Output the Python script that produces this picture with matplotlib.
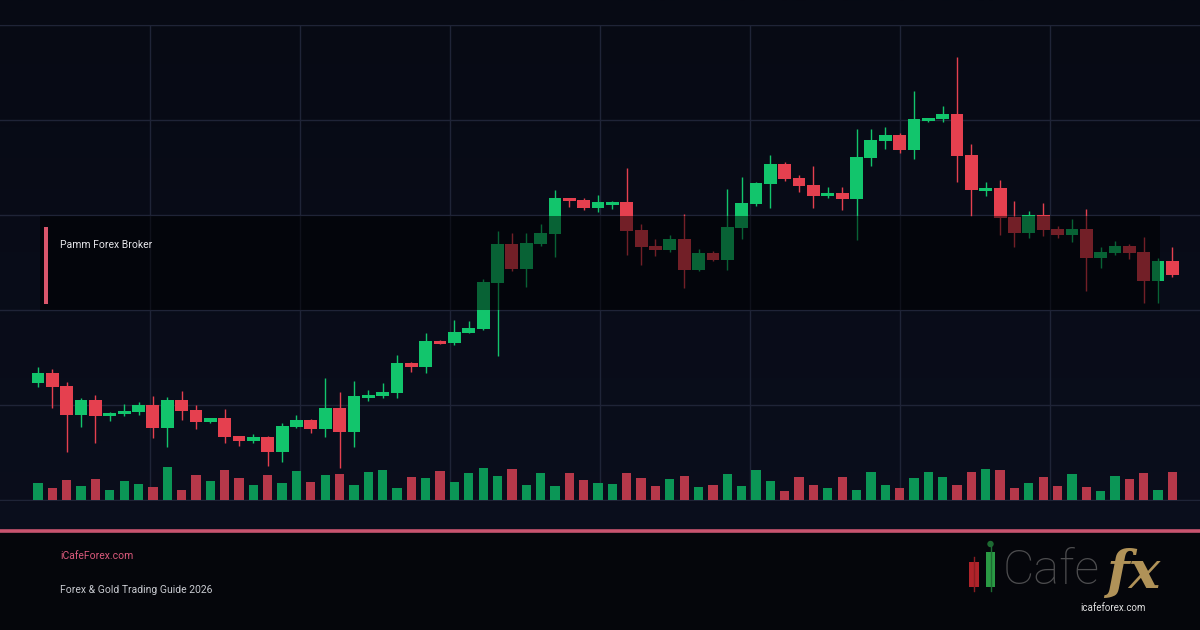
import numpy as np
import matplotlib.pyplot as plt
from matplotlib.patches import Rectangle, Circle
from matplotlib.colors import LinearSegmentedColormap

# OHLC readings (arbitrary price units)
opens = [2117, 2127, 2114, 2085, 2100, 2084, 2086, 2088, 2095, 2072,
         2100, 2090, 2078, 2082, 2064, 2059, 2063, 2048, 2073, 2080,
         2071, 2092, 2068, 2102, 2104, 2107, 2137, 2133, 2159, 2157,
         2167, 2171, 2217, 2256, 2231, 2256, 2266, 2302, 2300, 2292,
         2295, 2298, 2270, 2254, 2250, 2261, 2230, 2247, 2240, 2272,
         2296, 2316, 2336, 2322, 2315, 2304, 2307, 2301, 2342, 2359,
         2365, 2350, 2379, 2381, 2386, 2345, 2309, 2312, 2283, 2267,
         2285, 2271, 2265, 2271, 2242, 2247, 2254, 2248, 2219, 2239]
highs = [2133, 2131, 2118, 2102, 2105, 2088, 2096, 2098, 2104, 2103,
         2109, 2095, 2082, 2091, 2064, 2066, 2064, 2077, 2085, 2081,
         2122, 2108, 2119, 2110, 2117, 2145, 2138, 2167, 2160, 2180,
         2179, 2221, 2269, 2267, 2267, 2276, 2310, 2302, 2302, 2305,
         2299, 2332, 2276, 2261, 2265, 2286, 2251, 2249, 2311, 2323,
         2318, 2345, 2338, 2325, 2334, 2313, 2313, 2371, 2371, 2373,
         2367, 2409, 2382, 2394, 2443, 2356, 2318, 2320, 2299, 2289,
         2297, 2274, 2281, 2291, 2253, 2259, 2256, 2263, 2242, 2253]
lows = [2113, 2092, 2048, 2073, 2057, 2079, 2084, 2085, 2062, 2053,
        2080, 2071, 2077, 2057, 2054, 2057, 2034, 2038, 2072, 2067,
        2063, 2032, 2053, 2099, 2102, 2102, 2128, 2127, 2156, 2155,
        2167, 2170, 2144, 2229, 2213, 2254, 2243, 2293, 2290, 2288,
        2291, 2245, 2235, 2244, 2248, 2212, 2229, 2239, 2230, 2261,
        2294, 2292, 2319, 2308, 2292, 2302, 2290, 2260, 2334, 2351,
        2347, 2341, 2378, 2378, 2318, 2284, 2304, 2265, 2253, 2262,
        2264, 2262, 2258, 2209, 2232, 2245, 2241, 2197, 2197, 2223]
closes = [2127, 2113, 2085, 2100, 2084, 2087, 2089, 2095, 2072, 2100,
          2089, 2078, 2082, 2063, 2059, 2063, 2048, 2074, 2080, 2071,
          2092, 2068, 2104, 2105, 2108, 2137, 2133, 2159, 2156, 2168,
          2172, 2218, 2256, 2231, 2257, 2267, 2302, 2299, 2292, 2298,
          2298, 2269, 2253, 2250, 2261, 2230, 2247, 2240, 2273, 2297,
          2317, 2336, 2321, 2314, 2304, 2307, 2301, 2343, 2360, 2365,
          2350, 2381, 2382, 2386, 2344, 2310, 2312, 2282, 2267, 2285,
          2270, 2265, 2271, 2242, 2248, 2254, 2247, 2219, 2239, 2225]
volumes = [1700, 1200, 2000, 1400, 2100, 1000, 1900, 1600, 1300, 3300,
           1000, 2500, 1900, 3000, 2200, 1500, 2500, 1700, 2900, 1800,
           2500, 2600, 1500, 2800, 3000, 1200, 2300, 2200, 2900, 1800,
           2700, 3200, 2400, 3100, 1500, 2700, 1400, 2700, 2000, 1700,
           1600, 2700, 2200, 1400, 2100, 2400, 1300, 1500, 2600, 1400,
           3000, 1900, 900, 2300, 1500, 1200, 2300, 1000, 2800, 1500,
           1200, 2200, 2800, 2300, 1500, 2800, 3100, 3000, 1200, 1700,
           2300, 1400, 2600, 1300, 900, 2400, 2100, 2700, 1000, 2800]

label_text = "Pamm Forex Broker"
site_text = "iCafeForex.com"
guide_text = "Forex & Gold Trading Guide 2026"

UP = "#12c56c"
DOWN = "#e5404f"
VOL_UP = "#0b9656"
VOL_DOWN = "#b6384a"
GRID = "#1f2437"

plt.rcParams['font.family'] = ['Roboto', 'DejaVu Sans']

fig = plt.figure(figsize=(12, 6.3), dpi=100)
fig.patch.set_facecolor("#0a0d1a")

# background gradient
bg = fig.add_axes([0, 0, 1, 1], zorder=-5)
grad = np.linspace(0, 1, 256).reshape(-1, 1)
cmap = LinearSegmentedColormap.from_list("bg", ["#070a14", "#0b0f1e"])
bg.imshow(grad, aspect="auto", cmap=cmap, extent=[0, 1, 0, 1])
bg.axis("off")

# price chart
ax = fig.add_axes([0, 130 / 630, 1, 475 / 630])
ax.set_facecolor("none")
n = len(opens)
xs = 38 + np.arange(n) * 14.36
o = np.array(opens)
c = np.array(closes)
up = c >= o
colors = np.where(up, UP, DOWN)

ax.vlines(xs, lows, highs, colors=colors, linewidth=1, zorder=3)
ax.bar(xs, np.maximum(np.abs(c - o), 1.5), bottom=np.minimum(o, c),
       width=12.8, color=colors, zorder=4, linewidth=0)

ax.set_xlim(0, 1200)
ax.set_ylim(2000, 2475)
ax.set_xticks(np.arange(150, 1200, 150))
ax.set_yticks(np.arange(2000, 2476, 95))
ax.grid(True, color=GRID, linewidth=1)
ax.tick_params(length=0, labelbottom=False, labelleft=False)
for side in ["left", "right"]:
    ax.spines[side].set_visible(False)
for side in ["top", "bottom"]:
    ax.spines[side].set_color(GRID)

axv = ax.twinx()
axv.set_ylim(0, 47500)
axv.bar(xs, volumes, width=9.3, color=np.where(up, VOL_UP, VOL_DOWN), linewidth=0)
axv.axis("off")

# overlay decorations in pixel coordinates
ov = fig.add_axes([0, 0, 1, 1], zorder=10)
ov.set_xlim(0, 1200)
ov.set_ylim(630, 0)
ov.axis("off")
ov.set_facecolor("none")

ov.add_patch(Rectangle((40, 216), 1120, 94, color="black", alpha=0.5, lw=0))
ov.add_patch(Rectangle((44, 227), 4, 77, color="#d9566b", lw=0))
ov.text(60, 245, label_text, color="#e6e6ea", fontsize=7.5, va="center")

# footer
ov.add_patch(Rectangle((0, 533), 1200, 97, color="#05060b", lw=0))
ov.plot([0, 1200], [531, 531], color="#c9546e", lw=2.6, solid_capstyle="butt")
ov.text(60, 556, site_text, color="#dc5a7c", fontsize=7.5, va="center")
ov.text(60, 590, guide_text, color="#c8cad0", fontsize=7.5, va="center")

# logo
ov.plot([974, 974], [557, 591], color="#8a1d22", lw=1)
ov.add_patch(Rectangle((969, 562), 10, 25, color="#b0232a", lw=0))
ov.plot([990.5, 990.5], [544, 591], color="#1d6b32", lw=1)
ov.add_patch(Circle((990.5, 544), 2.5, color="#1d6b32"))
ov.add_patch(Rectangle((986, 552), 9, 35, color="#2a9a44", lw=0))
ov.text(1003, 571, "Cafe", color="#4d4d4f", fontsize=35, fontweight="light",
        va="center", ha="left")
ov.text(1106, 574, "fx", color="#b09258", fontsize=38, fontweight="bold",
        style="italic", family="DejaVu Serif", va="center", ha="left")
ov.text(1113, 608, "icafeforex.com", color="#e0e0e0", fontsize=7, va="center", ha="center")

fig.savefig("out.png", dpi=100, facecolor=fig.get_facecolor())
